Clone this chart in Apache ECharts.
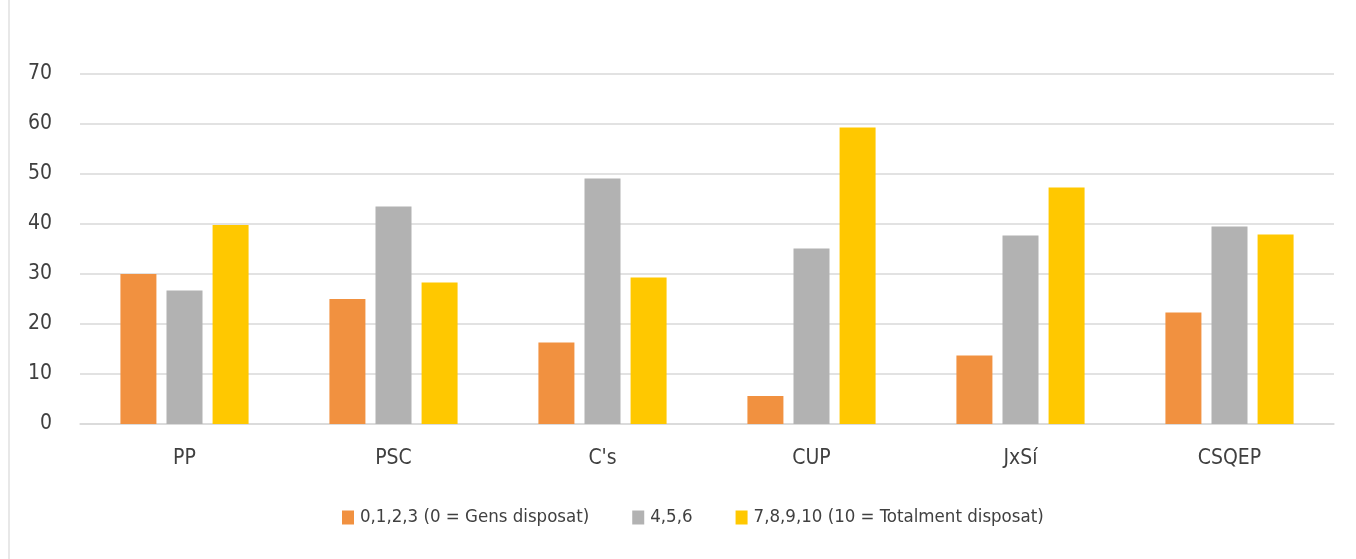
<!DOCTYPE html>
<html>
<head>
<meta charset="utf-8">
<script src="https://cdn.jsdelivr.net/npm/echarts@6/dist/echarts.min.js"></script>
<style>
html,body{margin:0;padding:0;background:#fff;}
#chart{width:1356px;height:559px;}
</style>
</head>
<body>
<div id="chart"></div>
<script>
const categories = ['PP', 'PSC', "C's", 'CUP', 'JxSí', 'CSQEP'];
const seriesNames = ['0,1,2,3 (0 = Gens disposat)', '4,5,6', '7,8,9,10 (10 = Totalment disposat)'];
const low = [30, 25, 16.3, 5.6, 13.7, 22.3];
const mid = [26.7, 43.5, 49.1, 35.1, 37.7, 39.5];
const high = [39.8, 28.3, 29.3, 59.3, 47.3, 37.9];
const colors = ['#F19140', '#B2B2B2', '#FFC800'];

const font = "'Liberation Sans Narrow', 'DejaVu Sans Condensed', 'Roboto', sans-serif";
const chart = echarts.init(document.getElementById('chart'));
const dataSets = [low, mid, high];
chart.setOption({
  animation: false,
  color: colors,
  textStyle: { fontFamily: font, color: '#404040' },
  grid: { left: 80, right: 22, top: 74, bottom: 135, containLabel: false },
  legend: {
    data: seriesNames,
    bottom: 27,
    left: 337,
    itemWidth: 12,
    itemHeight: 14,
    itemGap: 43,
    icon: 'rect',
    textStyle: { fontFamily: font, fontSize: 18.5, color: '#404040', padding: [0, 0, 0, 1] }
  },
  xAxis: {
    type: 'category',
    data: categories,
    axisLine: { show: true, lineStyle: { color: '#d9d9d9', width: 1.5 } },
    axisTick: { show: false },
    axisLabel: { fontFamily: font, fontSize: 21, color: '#404040', margin: 24 }
  },
  yAxis: {
    type: 'value',
    min: 0, max: 70, interval: 10,
    axisLine: { show: false },
    axisTick: { show: false },
    splitLine: { lineStyle: { color: '#d9d9d9', width: 1.5 } },
    axisLabel: { fontFamily: font, fontSize: 21, color: '#404040', margin: 28 }
  },
  graphic: [{
    type: 'line',
    shape: { x1: 9, y1: 0, x2: 9, y2: 559 },
    style: { stroke: '#e0e0e0', lineWidth: 1.5 }
  }],
  series: seriesNames.map((n, i) => ({
    name: n,
    type: 'bar',
    data: dataSets[i],
    barWidth: 36,
    barGap: '28%',
    itemStyle: { color: colors[i] }
  }))
});
</script>
</body>
</html>
